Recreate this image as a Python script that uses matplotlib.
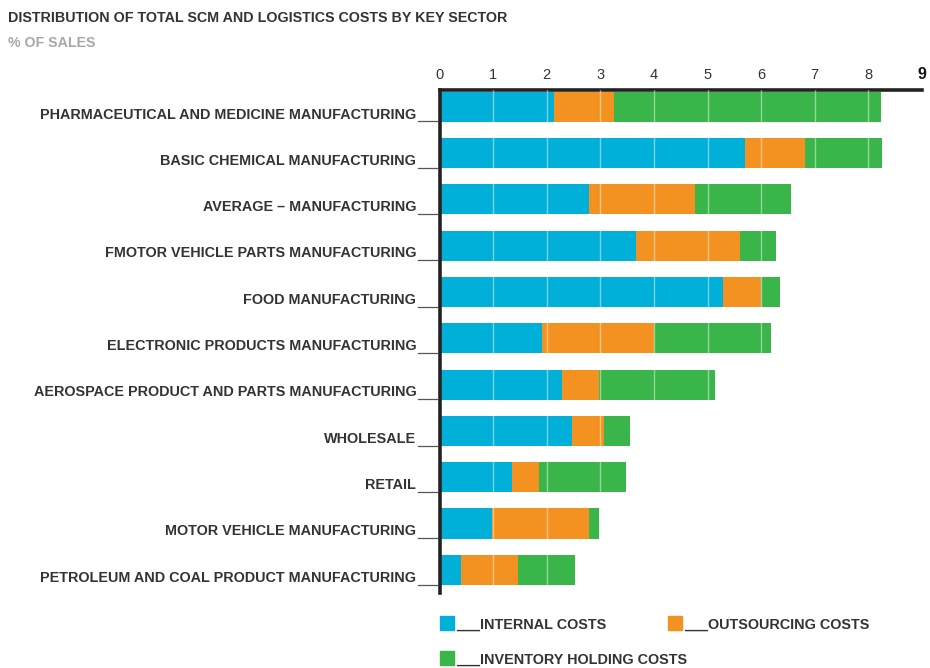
import matplotlib
matplotlib.use("Agg")
import matplotlib.pyplot as plt
from matplotlib.patches import Rectangle
import matplotlib.transforms as mtransforms

categories = [
    "PHARMACEUTICAL AND MEDICINE MANUFACTURING",
    "BASIC CHEMICAL MANUFACTURING",
    "AVERAGE \u2013 MANUFACTURING",
    "FMOTOR VEHICLE PARTS MANUFACTURING",
    "FOOD MANUFACTURING",
    "ELECTRONIC PRODUCTS MANUFACTURING",
    "AEROSPACE PRODUCT AND PARTS MANUFACTURING",
    "WHOLESALE",
    "RETAIL",
    "MOTOR VEHICLE MANUFACTURING",
    "PETROLEUM AND COAL PRODUCT MANUFACTURING",
]
internal = [2.14, 5.69, 2.79, 3.67, 5.28, 1.91, 2.29, 2.48, 1.35, 0.98, 0.40]
outsourcing = [1.11, 1.13, 1.98, 1.94, 0.71, 2.09, 0.68, 0.59, 0.51, 1.80, 1.07]
inventory = [4.99, 1.43, 1.79, 0.67, 0.37, 2.18, 2.17, 0.48, 1.61, 0.20, 1.05]
series_names = ["INTERNAL COSTS", "OUTSOURCING COSTS", "INVENTORY HOLDING COSTS"]
tick_values = [0, 1, 2, 3, 4, 5, 6, 7, 8, 9]

colors = ["#00B0D8", "#F39220", "#3AB54A"]
FONT = "Liberation Sans"
TXT = "#333333"

fig = plt.figure(figsize=(9.30, 6.68), dpi=100)
W, H = 930, 668
ax = fig.add_axes([439.5 / W, 1 - 593 / H, (922 - 439.5) / W, (593 - 90) / H])

y = list(range(len(categories)))
left = [0] * len(categories)
for vals, c in zip([internal, outsourcing, inventory], colors):
    ax.barh(y, vals, left=left, height=0.65, color=c, zorder=2)
    left = [a + b for a, b in zip(left, vals)]

for t in tick_values[1:-1]:
    ax.axvline(t, color="white", alpha=0.45, lw=1.0, zorder=3)

ax.set_xlim(0, 9)
ax.set_ylim(10.5, -0.36)
ax.xaxis.set_ticks_position("top")
ax.set_xticks(tick_values)
ax.set_xticklabels([str(v) for v in tick_values], fontfamily=FONT, fontsize=10.5, color=TXT)
lbl9 = ax.get_xticklabels()[-1]
lbl9.set_fontweight("bold")
lbl9.set_fontsize(11.5)
lbl9.set_color("#111111")
ax.tick_params(axis="x", length=0, pad=6)
ax.set_yticks([])
for s in ["right", "bottom"]:
    ax.spines[s].set_visible(False)
ax.spines["left"].set_linewidth(2.6)
ax.spines["top"].set_linewidth(2.6)
ax.spines["left"].set_color("#222222")
ax.spines["top"].set_color("#222222")

trans = mtransforms.blended_transform_factory(ax.transAxes, ax.transData)
for i, cat in enumerate(categories):
    ax.text(-0.048, i + 0.17, cat, transform=trans, ha="right", va="center",
            fontfamily=FONT, fontweight="bold", fontsize=10.4, color=TXT)
    ax.plot([-0.044, -0.006], [i + 0.32, i + 0.32], transform=trans, color="#555555",
            lw=0.9, clip_on=False)

fig.text(8 / W, 1 - 18 / H, "DISTRIBUTION OF TOTAL SCM AND LOGISTICS COSTS BY KEY SECTOR",
         fontfamily=FONT, fontweight="bold", fontsize=10.25, color=TXT, va="center")
fig.text(8 / W, 1 - 43 / H, "% OF SALES", fontfamily=FONT, fontweight="bold",
         fontsize=10.2, color="#A8A8A8", va="center")

legend_pos = [(440, 623), (668, 623), (440, 658)]
for (lx, ly), name, c in zip(legend_pos, series_names, colors):
    fig.patches.append(Rectangle((lx / W, 1 - (ly + 7) / H), 14 / W, 14 / H,
                                 transform=fig.transFigure, color=c, figure=fig))
    fig.text((lx + 16) / W, 1 - (ly + 2) / H, "___" + name, fontfamily=FONT,
             fontweight="bold", fontsize=10.4, color=TXT, va="center")

fig.savefig("out.png", dpi=100)
